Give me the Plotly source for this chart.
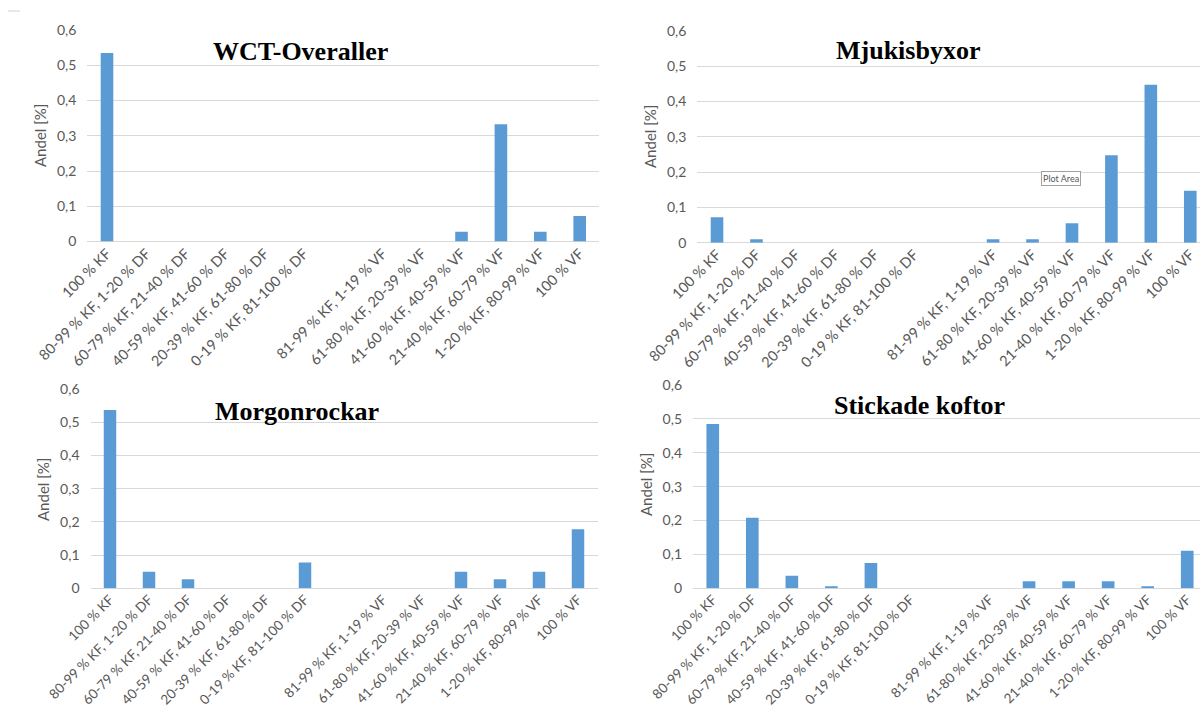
import plotly.graph_objects as go

# Fibre-mix categories (KF / DF / VF shares); the blank slot separates the two groups
categories = [
    "100 % KF",
    "80-99 % KF, 1-20 % DF",
    "60-79 % KF, 21-40 % DF",
    "40-59 % KF, 41-60 % DF",
    "20-39 % KF, 61-80 % DF",
    "0-19 % KF, 81-100 % DF",
    " ",
    "81-99 % KF, 1-19 % VF",
    "61-80 % KF, 20-39 % VF",
    "41-60 % KF, 40-59 % VF",
    "21-40 % KF, 60-79 % VF",
    "1-20 % KF, 80-99 % VF",
    "100 % VF",
]

wct_overaller = [0.535, 0, 0, 0, 0, 0, 0, 0, 0, 0.028, 0.333, 0.028, 0.072]
mjukisbyxor = [0.072, 0.010, 0, 0, 0, 0, 0, 0.010, 0.010, 0.055, 0.248, 0.448, 0.147]
morgonrockar = [0.537, 0.050, 0.027, 0, 0, 0.078, 0, 0, 0, 0.050, 0.027, 0.050, 0.178]
stickade_koftor = [0.485, 0.208, 0.037, 0.006, 0.075, 0, 0, 0, 0.021, 0.021, 0.021, 0.006, 0.111]

y_ticks = [0, 0.1, 0.2, 0.3, 0.4, 0.5, 0.6]
y_title = "Andel [%]"

W, H = 1200, 707
BAR_COLOR = "#5B9BD5"
GRID_COLOR = "#D9D9D9"
TEXT_GRAY = "#595959"

# Panel geometry in pixels: plot left/right, y of the 0,6 line, y of the 0 line,
# title centre, y-axis title centre, category label size.
panels = [
    dict(name="WCT-Overaller", values=wct_overaller,
         x0=87.3, x1=599.4, ytop=30.0, ybot=241.5, tx=300, ty=52, ax=40, ay=136, fs=14.5),
    dict(name="Mjukisbyxor", values=mjukisbyxor,
         x0=697.3, x1=1210.0, ytop=31.0, ybot=242.7, tx=908, ty=50, ax=650, ay=137, fs=14.5),
    dict(name="Morgonrockar", values=morgonrockar,
         x0=90.5, x1=597.5, ytop=389.0, ybot=588.3, tx=297, ty=411, ax=43, ay=490, fs=13.5),
    dict(name="Stickade koftor", values=stickade_koftor,
         x0=693.0, x1=1207.0, ytop=385.0, ybot=588.3, tx=919, ty=406, ax=646, ay=485, fs=13.5),
]

fig = go.Figure()
annotations = []
n = len(categories)

for i, p in enumerate(panels, start=1):
    suffix = "" if i == 1 else str(i)
    # clip panels whose last category runs past the page edge
    x1_vis = min(p["x1"], W)
    cat_w = (p["x1"] - p["x0"]) / n
    r_hi = -0.5 + (x1_vis - p["x0"]) / cat_w

    fig.add_trace(go.Bar(
        x=categories, y=p["values"],
        marker=dict(color=BAR_COLOR, line=dict(width=0)),
        xaxis="x" + suffix, yaxis="y" + suffix,
        showlegend=False, hoverinfo="x+y",
    ))

    fig.layout["xaxis" + suffix] = dict(
        domain=[p["x0"] / W, x1_vis / W],
        anchor="y" + suffix,
        type="category",
        categoryorder="array", categoryarray=categories,
        range=[-0.5, r_hi],
        automargin=False,
        showgrid=False, showline=False, zeroline=False, ticks="",
        tickangle=-45,
        tickfont=dict(family="Lato, sans-serif", size=p["fs"], color=TEXT_GRAY),
        fixedrange=True,
    )
    fig.layout["yaxis" + suffix] = dict(
        domain=[1 - p["ybot"] / H, 1 - p["ytop"] / H],
        anchor="x" + suffix,
        range=[0, 0.6001],
        tickvals=y_ticks,
        automargin=False,
        showgrid=True, gridcolor=GRID_COLOR, gridwidth=1,
        zeroline=True, zerolinecolor=GRID_COLOR, zerolinewidth=1,
        showline=False, ticks="",
        ticklabelstandoff=10,
        tickfont=dict(family="Lato, sans-serif", size=14, color=TEXT_GRAY),
        fixedrange=True,
    )

    annotations.append(dict(
        text="<b>" + p["name"] + "</b>",
        x=p["tx"] / W, y=1 - p["ty"] / H, xref="paper", yref="paper",
        xanchor="center", yanchor="middle", showarrow=False,
        font=dict(family="Liberation Serif, Times New Roman, serif", size=26, color="#000000"),
    ))
    annotations.append(dict(
        text=y_title,
        x=p["ax"] / W, y=1 - p["ay"] / H, xref="paper", yref="paper",
        xanchor="center", yanchor="middle", showarrow=False, textangle=-90,
        font=dict(family="Lato, sans-serif", size=15, color=TEXT_GRAY),
    ))

# Hover label left on the second panel
annotations.append(dict(
    text="Plot Area",
    x=1061 / W, y=1 - 178 / H, xref="paper", yref="paper",
    xanchor="center", yanchor="middle", showarrow=False,
    font=dict(family="Lato, sans-serif", size=9, color=TEXT_GRAY),
    bgcolor="#FFFFFF", bordercolor="#A0A0A0", borderwidth=1, borderpad=1,
))

fig.update_layout(
    width=W, height=H,
    margin=dict(l=0, r=0, t=0, b=0, autoexpand=False),
    paper_bgcolor="#FFFFFF", plot_bgcolor="#FFFFFF",
    separators=", ",
    bargap=0.68,
    annotations=annotations,
    shapes=[dict(type="line", xref="paper", yref="paper",
                 x0=8 / W, x1=20 / W, y0=1 - 11 / H, y1=1 - 11 / H,
                 line=dict(color="#D0D0D0", width=1))],
)

fig.write_html("out.html")
